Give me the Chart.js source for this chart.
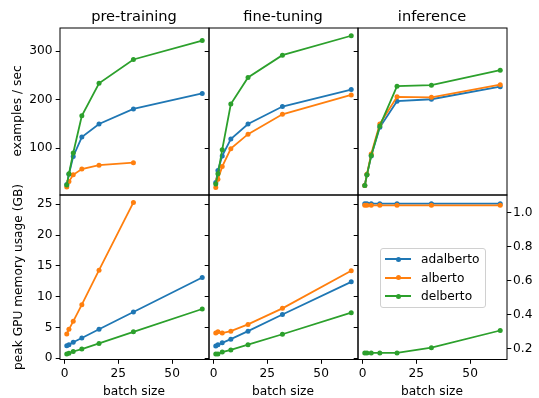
<!DOCTYPE html>
<html>
<head>
<meta charset="utf-8">
<script src="https://cdn.jsdelivr.net/npm/chart.js@4.4.0/dist/chart.umd.min.js"></script>
<style>
  body { margin: 0; background: #fff; font-family: "DejaVu Sans", sans-serif; }
  #wrap { position: relative; width: 539px; height: 398px; overflow: hidden; }
  #wrap canvas { position: absolute; left: 0; top: 0; }
  .lbl { position: absolute; color: #000; white-space: nowrap; line-height: 1; }
  .title { font-size: 14.6px; }
  .axlbl { font-size: 12.2px; }
  .rot { transform: translate(-50%, -50%) rotate(-90deg); }
  #legend { position: absolute; left: 380px; top: 248px; width: 104px; height: 58px;
            border: 1px solid #d0d0d0; border-radius: 3px; background: rgba(255,255,255,0.8); }
  .item { position: absolute; left: 4px; height: 14px; font-size: 12.2px; }
  .item .ln { position: absolute; left: 0; top: 6px; width: 26px; height: 2px; }
  .item .dot { position: absolute; left: 10.5px; top: 4.5px; width: 5px; height: 5px; border-radius: 50%; }
  .item span { position: absolute; left: 36px; top: 0; }
</style>
</head>
<body>
<div id="wrap">
  <canvas id="c1" width="539" height="398"></canvas>
  <canvas id="c2" width="539" height="398"></canvas>
  <canvas id="c3" width="539" height="398"></canvas>
  <canvas id="c4" width="539" height="398"></canvas>
  <canvas id="c5" width="539" height="398"></canvas>
  <canvas id="c6" width="539" height="398"></canvas>

  <div class="lbl title" style="left:134px;top:16px;transform:translate(-50%,-50%)">pre-training</div>
  <div class="lbl title" style="left:283px;top:16px;transform:translate(-50%,-50%)">fine-tuning</div>
  <div class="lbl title" style="left:432px;top:16px;transform:translate(-50%,-50%)">inference</div>
  <div class="lbl axlbl rot" style="left:17px;top:111px">examples / sec</div>
  <div class="lbl axlbl rot" style="left:18px;top:277px">peak GPU memory usage (GB)</div>
  <div class="lbl axlbl" style="left:134px;top:391px;transform:translate(-50%,-50%)">batch size</div>
  <div class="lbl axlbl" style="left:283px;top:391px;transform:translate(-50%,-50%)">batch size</div>
  <div class="lbl axlbl" style="left:432px;top:391px;transform:translate(-50%,-50%)">batch size</div>

  <div id="legend"></div>
</div>

<script>
// ---- data
var batchSizes = [1, 2, 4, 8, 16, 32, 64];
var models = ['adalberto', 'alberto', 'delberto'];
var colors = ['#1f77b4', '#ff7f0e', '#2ca02c'];

// examples / sec
var pretrainAdalberto = [25, 46, 83, 123, 150, 181, 213];
var pretrainAlberto = [20, 31, 45, 57, 65, 70, null];
var pretrainDelberto = [24, 47, 90, 167, 234, 283, 322];
var finetuneAdalberto = [29, 54, 84, 119, 150, 186, 221];
var finetuneAlberto = [19, 36, 62, 99, 129, 170, 210];
var finetuneDelberto = [26, 47, 97, 191, 246, 292, 332];
var inferenceAdalberto = [23, 45, 84, 143, 197, 201, 227];
var inferenceAlberto = [23, 46, 88, 150, 206, 205, 231];
var inferenceDelberto = [23, 45, 85, 146, 228, 230, 261];

// peak GPU memory usage (GB)
var pretrainMemAdalberto = [2.05, 2.2, 2.6, 3.3, 4.7, 7.5, 13.1];
var pretrainMemAlberto = [3.95, 4.7, 6.0, 8.7, 14.3, 25.3, null];
var pretrainMemDelberto = [0.7, 0.8, 1.1, 1.5, 2.4, 4.3, 8.0];
var finetuneMemAdalberto = [2.0, 2.2, 2.5, 3.1, 4.4, 7.1, 12.4];
var finetuneMemAlberto = [4.1, 4.3, 4.1, 4.4, 5.5, 8.1, 14.2];
var finetuneMemDelberto = [0.7, 0.7, 1.0, 1.35, 2.2, 3.9, 7.4];
var inferenceMemAdalberto = [1.055, 1.055, 1.055, 1.055, 1.055, 1.055, 1.055];
var inferenceMemAlberto = [1.045, 1.045, 1.045, 1.045, 1.045, 1.045, 1.045];
var inferenceMemDelberto = [0.175, 0.175, 0.175, 0.175, 0.175, 0.206, 0.307];

// ticks
var xTicks = [0, 25, 50];
var speedTicks = [100, 200, 300];
var memTicks = [0, 5, 10, 15, 20, 25];
var ratioTicks = [0.2, 0.4, 0.6, 0.8, 1.0];

// ---- layout (pixels)
var W = 539, H = 398;
var colLeft = [60, 209, 358];
var colWidth = 149;
var rowTop = [28, 195];
var rowBottom = [195, 359.5];
var FONT = { family: 'DejaVu Sans', size: 12.2 };
var TICK = 4.3;

var boxPlugin = {
    id: 'box',
    afterDraw: function (chart) {
        var a = chart.chartArea, ctx = chart.ctx;
        ctx.save();
        ctx.strokeStyle = '#000';
        ctx.lineWidth = 1;
        ctx.strokeRect(a.left, a.top, a.right - a.left, a.bottom - a.top);
        ctx.restore();
    }
};

function toPoints(values) {
    var pts = [];
    for (var i = 0; i < batchSizes.length; i++) {
        if (values[i] !== null) pts.push({ x: batchSizes[i], y: values[i] });
    }
    return pts;
}

function fixedTicks(list) {
    return function (s) { s.ticks = list.map(function (v) { return { value: v }; }); };
}

function makePanel(id, col, row, series, yCfg, rightCfg) {
    var left = colLeft[col], right = colLeft[col] + colWidth;
    var xHeight = row === 1 ? 30 : 0;
    var datasets = series.map(function (vals, i) {
        return {
            label: models[i],
            data: toPoints(vals),
            borderColor: colors[i],
            backgroundColor: colors[i],
            borderWidth: 1.8,
            pointRadius: 2.5,
            pointBorderWidth: 0,
            pointHoverRadius: 2.5,
            tension: 0,
            order: 3 - i,
            yAxisID: rightCfg ? 'y2' : 'y'
        };
    });

    var scales = {
        x: {
            type: 'linear',
            min: -2.15, max: 67.15,
            display: row === 1,
            afterBuildTicks: fixedTicks(xTicks),
            afterFit: function (s) { s.height = xHeight; },
            grid: { drawOnChartArea: false, drawTicks: true, tickLength: TICK, color: '#000', tickWidth: 1 },
            border: { display: false },
            ticks: { color: '#000', font: FONT, padding: 3, maxRotation: 0 }
        },
        y: {
            type: 'linear',
            min: yCfg.min, max: yCfg.max,
            afterBuildTicks: fixedTicks(yCfg.ticks),
            afterFit: function (s) { s.width = 50; },
            grid: { drawOnChartArea: false, drawTicks: true, tickLength: TICK, color: '#000', tickWidth: 1 },
            border: { display: false },
            ticks: { color: '#000', font: FONT, padding: 3.3, display: col === 0 }
        }
    };
    var padRight = W - right;
    if (rightCfg) {
        scales.y2 = {
            type: 'linear',
            position: 'right',
            min: rightCfg.min, max: rightCfg.max,
            afterBuildTicks: fixedTicks(rightCfg.ticks),
            afterFit: function (s) { s.width = 30; },
            grid: { drawOnChartArea: false, drawTicks: true, tickLength: TICK, color: '#000', tickWidth: 1 },
            border: { display: false },
            ticks: { color: '#000', font: FONT, padding: 1.8,
                     callback: function (v) { return v.toFixed(1); } }
        };
        padRight = W - right - 30;
    }

    return new Chart(document.getElementById(id), {
        type: 'line',
        data: { datasets: datasets },
        options: {
            responsive: false,
            animation: false,
            events: [],
            layout: {
                autoPadding: false,
                padding: {
                    left: left - 50,
                    top: rowTop[row],
                    right: padRight,
                    bottom: H - rowBottom[row] - xHeight
                }
            },
            plugins: { legend: { display: false }, tooltip: { enabled: false }, title: { display: false } },
            scales: scales
        },
        plugins: [boxPlugin]
    });
}

var speedY = { min: 3.4, max: 348, ticks: speedTicks };
var memY = { min: -0.2, max: 26.5, ticks: memTicks };
var ratioY = { min: 0.136, max: 1.106, ticks: ratioTicks };

makePanel('c1', 0, 0, [pretrainAdalberto, pretrainAlberto, pretrainDelberto], speedY);
makePanel('c2', 1, 0, [finetuneAdalberto, finetuneAlberto, finetuneDelberto], speedY);
makePanel('c3', 2, 0, [inferenceAdalberto, inferenceAlberto, inferenceDelberto], speedY);
makePanel('c4', 0, 1, [pretrainMemAdalberto, pretrainMemAlberto, pretrainMemDelberto], memY);
makePanel('c5', 1, 1, [finetuneMemAdalberto, finetuneMemAlberto, finetuneMemDelberto], memY);
makePanel('c6', 2, 1, [inferenceMemAdalberto, inferenceMemAlberto, inferenceMemDelberto], memY, ratioY);

// ---- legend (inside the bottom right panel)
var legend = document.getElementById('legend');
models.forEach(function (name, i) {
    var it = document.createElement('div');
    it.className = 'item';
    it.style.top = (3 + i * 18.5) + 'px';
    it.innerHTML = '<div class="ln" style="background:' + colors[i] + '"></div>' +
        '<div class="dot" style="background:' + colors[i] + '"></div><span>' + name + '</span>';
    legend.appendChild(it);
});
</script>
</body>
</html>
